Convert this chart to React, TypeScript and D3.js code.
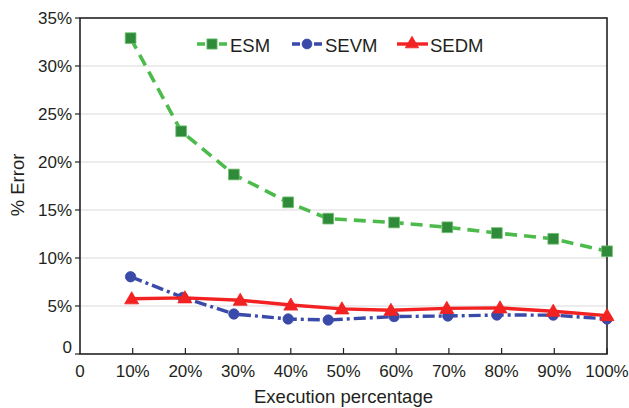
import React from "react";
import * as d3 from "d3";

const xTickValues = [0, 10, 20, 30, 40, 50, 60, 70, 80, 90, 100];
const xTickLabels = ["0", "10%", "20%", "30%", "40%", "50%", "60%", "70%", "80%", "90%", "100%"];
const yTickValues = [0, 5, 10, 15, 20, 25, 30, 35];
const yTickLabels = ["0", "5%", "10%", "15%", "20%", "25%", "30%", "35%"];

const esmX = [9.6, 19.2, 29.2, 39.5, 47.1, 59.6, 69.7, 79.1, 89.8, 100];
const esmY = [32.9, 23.2, 18.7, 15.8, 14.1, 13.7, 13.2, 12.6, 12.0, 10.7];
const sevmX = [9.6, 19.5, 29.2, 39.5, 47.1, 59.6, 69.8, 79.1, 89.8, 100];
const sevmY = [8.05, 5.9, 4.17, 3.65, 3.54, 3.9, 3.96, 4.06, 4.05, 3.65];
const sedmX = [9.8, 19.9, 30.4, 40, 49.7, 59, 69.6, 79.7, 89.8, 100];
const sedmY = [5.75, 5.85, 5.6, 5.1, 4.7, 4.55, 4.75, 4.8, 4.45, 4.0];

const seriesNames = ["ESM", "SEVM", "SEDM"];

const W = 629;
const H = 408;
const FONT = "Liberation Sans, Arial, Helvetica, sans-serif";

export default function App() {
  const x = d3.scaleLinear().domain([0, 100]).range([80, 607]);
  const y = d3.scaleLinear().domain([0, 35]).range([354, 18]);

  const series = [
    {
      name: seriesNames[0], xs: esmX, ys: esmY,
      line: "#4cbb4c", fill: "#2f8a3a", edge: "#6cc06c",
      dash: "12,7", width: 3.6, symbol: d3.symbolSquare, size: 115,
    },
    {
      name: seriesNames[1], xs: sevmX, ys: sevmY,
      line: "#3a4aa8", fill: "#3a4aa8", edge: "#3a4aa8",
      dash: "12,4,3,4", width: 3.4, symbol: d3.symbolCircle, size: 85,
    },
    {
      name: seriesNames[2], xs: sedmX, ys: sedmY,
      line: "#f22222", fill: "#f22222", edge: "#f22222",
      dash: "none", width: 3.4, symbol: d3.symbolTriangle, size: 85,
    },
  ];

  const lineGen = d3
    .line<[number, number]>()
    .x((d) => x(d[0]))
    .y((d) => y(d[1]));

  const legendX = [197, 292, 397];
  const legendY = 44;

  return (
    <svg
      width={W}
      height={H}
      style={{ position: "absolute", left: 0, top: 0, background: "#fff" }}
      fontFamily={FONT}
    >
      <rect width={W} height={H} fill="#fff" />
      {/* gridlines */}
      {yTickValues.slice(1, -1).map((v) => (
        <line key={"g" + v} x1={x(0)} x2={x(100)} y1={y(v)} y2={y(v)} stroke="#d9d9d9" strokeWidth={1.2} />
      ))}
      {/* frame */}
      <rect x={x(0)} y={y(35)} width={x(100) - x(0)} height={y(0) - y(35)} fill="none" stroke="#222" strokeWidth={1.6} />
      {/* y ticks */}
      {yTickValues.map((v, i) => (
        <g key={"y" + v}>
          <line x1={x(0) - 5} x2={x(0)} y1={y(v)} y2={y(v)} stroke="#222" strokeWidth={1.2} />
          <text x={72} y={y(v) - (v === 0 ? 7 : 0)} dy="0.35em" textAnchor="end" fontSize={17} fill="#231f20">
            {yTickLabels[i]}
          </text>
        </g>
      ))}
      {/* x ticks */}
      {xTickValues.map((v, i) => (
        <g key={"x" + v}>
          {v > 0 && <line x1={x(v)} x2={x(v)} y1={y(0)} y2={y(0) - 6} stroke="#222" strokeWidth={1.2} />}
          <text x={x(v)} y={377} textAnchor="middle" fontSize={17} fill="#231f20">
            {xTickLabels[i]}
          </text>
        </g>
      ))}
      {/* axis titles */}
      <text x={x(50)} y={403} textAnchor="middle" fontSize={18.5} fill="#231f20">
        Execution percentage
      </text>
      <text transform={`translate(24,185) rotate(-90)`} textAnchor="middle" fontSize={18.5} fill="#231f20">
        % Error
      </text>
      {/* series */}
      {series.map((s) => {
        const pts: [number, number][] = s.xs.map((xv, i) => [xv, s.ys[i]]);
        const sym = d3.symbol().type(s.symbol).size(s.size)();
        return (
          <g key={s.name}>
            <path d={lineGen(pts) || ""} fill="none" stroke={s.line} strokeWidth={s.width} strokeDasharray={s.dash} />
            {pts.map((p, i) => (
              <path
                key={i}
                d={sym || ""}
                transform={`translate(${x(p[0])},${y(p[1]) + (s.symbol === d3.symbolTriangle ? 1 : 0)})`}
                fill={s.fill}
                stroke={s.edge}
                strokeWidth={0.8}
              />
            ))}
          </g>
        );
      })}
      {/* legend */}
      {series.map((s, i) => {
        const sym = d3.symbol().type(s.symbol).size(s.size * 0.9)();
        const lx = legendX[i];
        return (
          <g key={"l" + s.name}>
            <line x1={lx} x2={lx + 31} y1={legendY} y2={legendY} stroke={s.line} strokeWidth={s.width} strokeDasharray={s.dash === "none" ? "none" : "8,3"} />
            <path d={sym || ""} transform={`translate(${lx + 15},${legendY})`} fill={s.fill} stroke={s.edge} strokeWidth={0.8} />
            <text x={lx + 33} y={legendY + 7.5} fontSize={18.5} fill="#231f20">
              {s.name}
            </text>
          </g>
        );
      })}
    </svg>
  );
}
